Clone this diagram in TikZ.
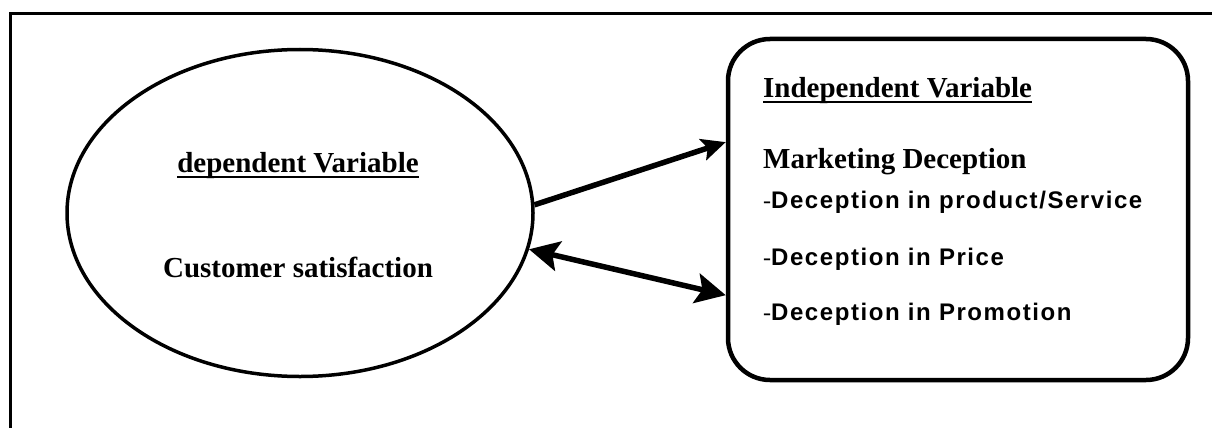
\documentclass[tikz,border=0pt]{standalone}
\usepackage{fontspec}
\setmainfont{Liberation Serif}
\newfontfamily\arialb{Liberation Sans}[LetterSpace=6.5]
\usetikzlibrary{shapes.geometric,arrows.meta,calc}
\tikzset{
  frameline/.style={line width=3.5pt, line cap=rect},
  varellipse/.style={draw, ellipse, line width=3.5pt, minimum width=466pt, minimum height=327pt, inner sep=0pt},
  varbox/.style={draw, rectangle, rounded corners=42pt, line width=4.5pt, minimum width=460pt, minimum height=341pt, inner sep=0pt},
  headtxt/.style={inner sep=0pt, font=\fontsize{29}{34}\selectfont\bfseries},
  itemtxt/.style={inner sep=0pt, anchor=base west, font=\fontsize{24}{28}\selectfont},
  uline/.style={line width=2pt},
  bigarrow/.style={line width=5.5pt},
}
\newcommand\itemdash{{\rmfamily\mdseries -}}
\begin{document}
\begin{tikzpicture}[x=1pt,y=-1pt]
\useasboundingbox (0,0) rectangle (1212,428);
\clip (0,0) rectangle (1212,428);
% outer frame (cropped)
\draw[frameline] (10.5,440) -- (10.5,13.5) -- (1230,13.5);
% shapes
\node[varellipse] (el) at (300,213) {};
\node[varbox] (bx) at (958,209.5) {};
% ellipse texts
\node[headtxt, anchor=base] (dv) at (298,172) {dependent Variable};
\draw[uline] ([yshift=-5pt]dv.base west) -- ([yshift=-5pt]dv.base east);
\node[headtxt, anchor=base] (cs) at (298,277) {Customer satisfaction};
% box texts
\node[headtxt, anchor=base west] (iv) at (763,97) {Independent Variable};
\draw[uline] ([yshift=-5pt]iv.base west) -- ([yshift=-5pt]iv.base east);
\node[headtxt, anchor=base west] (md) at (763,168) {Marketing Deception};
\node[itemtxt] (i1) at (763,208) {\itemdash{\arialb\bfseries Deception in product/Service}};
\node[itemtxt] (i2) at (763,265) {\itemdash{\arialb\bfseries Deception in Price}};
\node[itemtxt] (i3) at (763,320) {\itemdash{\arialb\bfseries Deception in Promotion}};
% connectors
\draw[bigarrow, -{Stealth[length=24pt,width=22pt,inset=5pt]}]
  (el.2.5) -- ($(bx.north west)!0.305!(bx.south west)$);
\draw[bigarrow, {Stealth[length=30pt,width=30pt,inset=6pt]}-{Stealth[length=30pt,width=30pt,inset=6pt]}]
  (el.-9) -- ($(bx.north west)!0.748!(bx.south west)$);
\end{tikzpicture}
\end{document}
